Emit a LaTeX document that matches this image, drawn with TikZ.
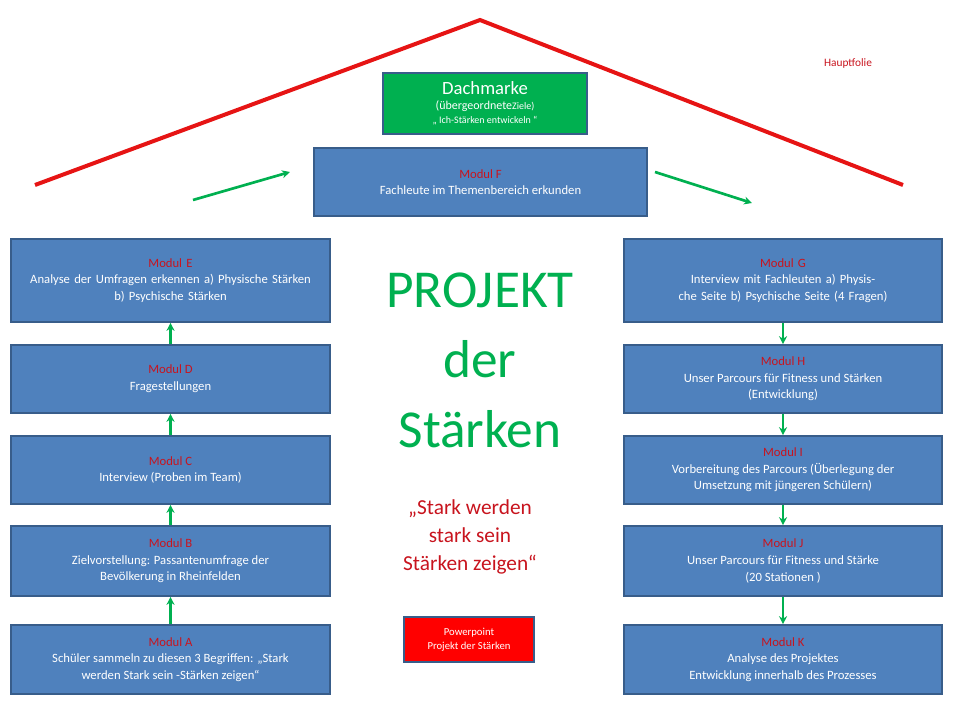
\documentclass[tikz,border=0pt]{standalone}
\usepackage{fontspec}
\setmainfont{Carlito}
\usetikzlibrary{arrows.meta}
\definecolor{boxblue}{RGB}{79,129,189}
\definecolor{boxedge}{RGB}{56,93,138}
\definecolor{roofred}{RGB}{230,20,20}
\definecolor{arrgreen}{RGB}{0,176,80}
\definecolor{modred}{RGB}{200,20,30}

\begin{document}
\begin{tikzpicture}[x=0.75pt, y=-0.75pt,
  modbox/.style={draw=boxedge, line width=1.2pt, fill=boxblue, text=white,
                 align=center, font=\fontsize{9.5}{12.5}\selectfont, inner sep=2pt},
  flow/.style={-{Stealth[length=6pt,width=6pt]}, arrgreen, line width=2pt},
  >=Stealth
]
  \useasboundingbox (0,0) rectangle (960,720);

  % Roof
  \draw[roofred, line width=3pt] (35,185) -- (480,20) -- (903,185);
  \node[text=modred, font=\fontsize{8.5}{10}\selectfont] (haupt) at (848,63) {Hauptfolie};

  % Top boxes
  \node[modbox, fill=arrgreen, minimum width=204*0.75pt, minimum height=61*0.75pt] (dach) at (485,103.5)
    {{\fontsize{14}{16}\selectfont Dachmarke}\\[-1pt]
     {\fontsize{9}{11}\selectfont (übergeordnete{\fontsize{7.5}{9}\selectfont Ziele)}}\\[-2pt]
     {\fontsize{7.5}{9}\selectfont „ Ich-Stärken entwickeln “}};
  \node[modbox, minimum width=333*0.75pt, minimum height=68*0.75pt] (mf) at (480.5,182)
    {\textcolor{modred}{Modul F}\\Fachleute im Themenbereich erkunden};

  \draw[flow] (193,200) -- (290,172);
  \draw[flow] (655,172) -- (752,203);

  % Left column
  \node[modbox, minimum width=319*0.75pt, minimum height=83*0.75pt, text width=300*0.75pt] (me) at (170.5,280.5)
    {\textcolor{modred}{Modul E}\\Analyse der Umfragen erkennen a) Physische Stärken\\b) Psychische Stärken};
  \node[modbox, minimum width=319*0.75pt, minimum height=68*0.75pt] (md) at (170.5,379)
    {\textcolor{modred}{Modul D}\\Fragestellungen};
  \node[modbox, minimum width=319*0.75pt, minimum height=68*0.75pt] (mc) at (170.5,470)
    {\textcolor{modred}{Modul C}\\Interview (Proben im Team)};
  \node[modbox, minimum width=319*0.75pt, minimum height=70*0.75pt] (mb) at (170.5,561)
    {\textcolor{modred}{Modul B}\\Zielvorstellung: Passantenumfrage  der\\Bevölkerung in Rheinfelden};
  \node[modbox, minimum width=319*0.75pt, minimum height=69*0.75pt] (ma) at (170.5,659.5)
    {\textcolor{modred}{Modul A}\\Schüler sammeln zu diesen 3 Begriffen: „Stark\\werden Stark sein -Stärken zeigen“};

  \draw[flow] (ma) -- (mb);
  \draw[flow] (mb) -- (mc);
  \draw[flow] (mc) -- (md);
  \draw[flow] (md) -- (me);

  % Right column
  \node[modbox, minimum width=318*0.75pt, minimum height=83*0.75pt, text width=300*0.75pt] (mg) at (783,280.5)
    {\textcolor{modred}{Modul G}\\Interview mit Fachleuten a) Physische Seite b) Psychische Seite  (4 Fragen)};
  \node[modbox, minimum width=318*0.75pt, minimum height=68*0.75pt] (mh) at (783,379)
    {\textcolor{modred}{Modul H}\\Unser Parcours für Fitness und Stärken\\(Entwicklung)};
  \node[modbox, minimum width=318*0.75pt, minimum height=68*0.75pt] (mi) at (783,470)
    {\textcolor{modred}{Modul I}\\Vorbereitung des Parcours  (Überlegung der\\Umsetzung mit jüngeren Schülern)};
  \node[modbox, minimum width=318*0.75pt, minimum height=70*0.75pt] (mj) at (783,561)
    {\textcolor{modred}{Modul J}\\Unser Parcours  für Fitness und Stärke\\(20 Stationen )};
  \node[modbox, minimum width=318*0.75pt, minimum height=69*0.75pt] (mk) at (783,659.5)
    {\textcolor{modred}{Modul K}\\Analyse des Projektes\\Entwicklung innerhalb des Prozesses};

  \draw[flow] (mg) -- (mh);
  \draw[flow] (mh) -- (mi);
  \draw[flow] (mi) -- (mj);
  \draw[flow] (mj) -- (mk);

  % Centre title
  \node[text=arrgreen, align=center, font=\fontsize{40}{52.5}\selectfont] (title) at (480,360)
    {PROJEKT\\der\\Stärken};
  \node[text=modred, align=center, font=\fontsize{16}{21}\selectfont] (motto) at (470,537)
    {„Stark   werden\\stark   sein\\Stärken   zeigen“};

  \node[modbox, fill=red, minimum width=130*0.75pt, minimum height=45*0.75pt,
        font=\fontsize{8}{10.5}\selectfont] (ppt) at (469,639.5)
    {Powerpoint\\Projekt der Stärken};
\end{tikzpicture}
\end{document}
